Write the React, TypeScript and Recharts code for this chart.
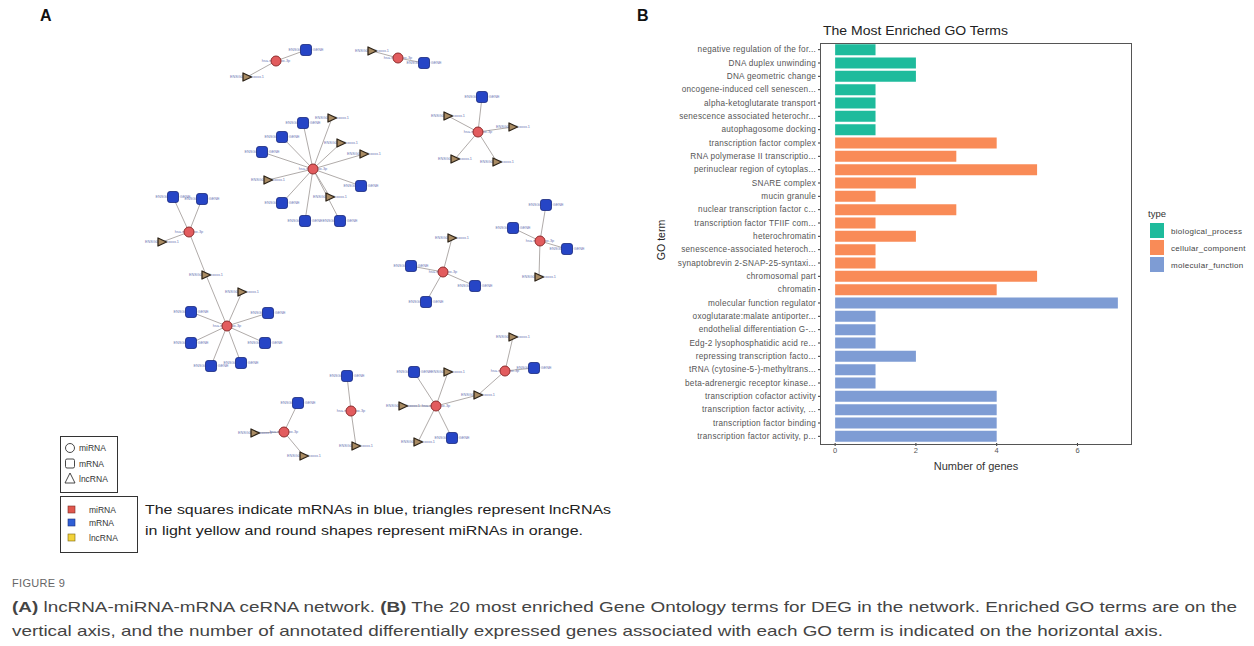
import React from 'react';
import { ScatterChart, Scatter, XAxis, YAxis, BarChart, Bar, Cell } from 'recharts';

// ---------------- Panel A: ceRNA network (layout positions) ----------------
const mirnaNodes = [
  { id: 'm1', x: 276, y: 61 }, { id: 'm2', x: 398, y: 58 }, { id: 'm3', x: 313, y: 169 },
  { id: 'm4', x: 478, y: 132 }, { id: 'm5', x: 189, y: 232 }, { id: 'm6', x: 227, y: 326 },
  { id: 'm7', x: 443, y: 272 }, { id: 'm8', x: 540, y: 241 }, { id: 'm9', x: 284, y: 432 },
  { id: 'm10', x: 351, y: 411 }, { id: 'm11', x: 436, y: 406 }, { id: 'm12', x: 505, y: 371 },
];
const mrnaNodes = [
  { id: 'g1', x: 306, y: 50 }, { id: 'g2', x: 424, y: 63 }, { id: 'g3', x: 303, y: 123 },
  { id: 'g4', x: 282, y: 137 }, { id: 'g5', x: 262, y: 152 }, { id: 'g6', x: 361, y: 186 },
  { id: 'g7', x: 282, y: 203 }, { id: 'g8', x: 305, y: 221 }, { id: 'g9', x: 340, y: 221 },
  { id: 'g10', x: 482, y: 97 }, { id: 'g11', x: 173, y: 197 }, { id: 'g12', x: 202, y: 199 },
  { id: 'g13', x: 191, y: 312 }, { id: 'g14', x: 268, y: 313 }, { id: 'g15', x: 191, y: 343 },
  { id: 'g16', x: 265, y: 343 }, { id: 'g17', x: 211, y: 366 }, { id: 'g18', x: 241, y: 363 },
  { id: 'g19', x: 411, y: 266 }, { id: 'g20', x: 475, y: 286 }, { id: 'g21', x: 426, y: 302 },
  { id: 'g22', x: 546, y: 205 }, { id: 'g23', x: 513, y: 228 }, { id: 'g24', x: 567, y: 249 },
  { id: 'g25', x: 298, y: 403 }, { id: 'g26', x: 347, y: 376 }, { id: 'g27', x: 414, y: 372 },
  { id: 'g28', x: 452, y: 438 }, { id: 'g29', x: 534, y: 368 },
];
const lncrnaNodes = [
  { id: 't1', x: 247, y: 77 }, { id: 't2', x: 372, y: 51 }, { id: 't3', x: 332, y: 118 },
  { id: 't4', x: 341, y: 143 }, { id: 't5', x: 364, y: 154 }, { id: 't6', x: 268, y: 180 },
  { id: 't7', x: 330, y: 197 }, { id: 't8', x: 448, y: 116 }, { id: 't9', x: 513, y: 127 },
  { id: 't10', x: 455, y: 159 }, { id: 't11', x: 497, y: 162 }, { id: 't12', x: 162, y: 242 },
  { id: 't13', x: 206, y: 275 }, { id: 't14', x: 242, y: 292 }, { id: 't15', x: 452, y: 238 },
  { id: 't16', x: 539, y: 277 }, { id: 't17', x: 255, y: 433 }, { id: 't18', x: 304, y: 456 },
  { id: 't19', x: 356, y: 446 }, { id: 't20', x: 448, y: 372 }, { id: 't21', x: 403, y: 406 },
  { id: 't22', x: 478, y: 395 }, { id: 't23', x: 418, y: 442 }, { id: 't24', x: 513, y: 337 },
];
const edges: [string, string][] = [
  ['m1', 'g1'], ['m1', 't1'], ['m2', 'g2'], ['m2', 't2'],
  ['m3', 'g3'], ['m3', 'g4'], ['m3', 'g5'], ['m3', 'g6'], ['m3', 'g7'], ['m3', 'g8'], ['m3', 'g9'],
  ['m3', 't3'], ['m3', 't4'], ['m3', 't5'], ['m3', 't6'], ['m3', 't7'],
  ['m4', 'g10'], ['m4', 't8'], ['m4', 't9'], ['m4', 't10'], ['m4', 't11'],
  ['m5', 'g11'], ['m5', 'g12'], ['m5', 't12'], ['m5', 't13'],
  ['m6', 't13'], ['m6', 't14'], ['m6', 'g13'], ['m6', 'g14'], ['m6', 'g15'], ['m6', 'g16'], ['m6', 'g17'], ['m6', 'g18'],
  ['m7', 't15'], ['m7', 'g19'], ['m7', 'g20'], ['m7', 'g21'],
  ['m8', 'g22'], ['m8', 'g23'], ['m8', 'g24'], ['m8', 't16'],
  ['m9', 'g25'], ['m9', 't17'], ['m9', 't18'],
  ['m10', 'g26'], ['m10', 't19'],
  ['m11', 'g27'], ['m11', 'g28'], ['m11', 't20'], ['m11', 't21'], ['m11', 't22'], ['m11', 't23'],
  ['m12', 't22'], ['m12', 't24'], ['m12', 'g29'],
];
const nodeLabels = { mirna: 'hsa-miR-xxxx-3p', mrna: 'ENSG000000  GENE', lncrna: 'ENSG00000xxxxx.1' };

// ---------------- Panel B: GO enrichment ----------------
const goTerms = [
  'negative regulation of the for...', 'DNA duplex unwinding', 'DNA geometric change',
  'oncogene-induced cell senescen...', 'alpha-ketoglutarate transport', 'senescence associated heterochr...',
  'autophagosome docking', 'transcription factor complex', 'RNA polymerase II transcriptio...',
  'perinuclear region of cytoplas...', 'SNARE complex', 'mucin granule', 'nuclear transcription factor c...',
  'transcription factor TFIIF com...', 'heterochromatin', 'senescence-associated heteroch...',
  'synaptobrevin 2-SNAP-25-syntaxi...', 'chromosomal part', 'chromatin', 'molecular function regulator',
  'oxoglutarate:malate antiporter...', 'endothelial differentiation G-...', 'Edg-2 lysophosphatidic acid re...',
  'repressing transcription facto...', 'tRNA (cytosine-5-)-methyltrans...', 'beta-adrenergic receptor kinase...',
  'transcription cofactor activity', 'transcription factor activity, ...', 'transcription factor binding',
  'transcription factor activity, p...',
];
const geneCounts = [1, 2, 2, 1, 1, 1, 1, 4, 3, 5, 2, 1, 3, 1, 2, 1, 1, 5, 4, 7, 1, 1, 1, 2, 1, 1, 4, 4, 4, 4];
const goTypes = [
  'biological_process', 'biological_process', 'biological_process', 'biological_process', 'biological_process',
  'biological_process', 'biological_process',
  'cellular_component', 'cellular_component', 'cellular_component', 'cellular_component', 'cellular_component',
  'cellular_component', 'cellular_component', 'cellular_component', 'cellular_component', 'cellular_component',
  'cellular_component', 'cellular_component',
  'molecular_function', 'molecular_function', 'molecular_function', 'molecular_function', 'molecular_function',
  'molecular_function', 'molecular_function', 'molecular_function', 'molecular_function', 'molecular_function',
  'molecular_function',
];
const typeNames = ['biological_process', 'cellular_component', 'molecular_function'];
const typeColors: Record<string, string> = {
  biological_process: '#1ebb9c',
  cellular_component: '#f98b57',
  molecular_function: '#7e9cd4',
};
const xTicks = [0, 2, 4, 6];

const barData = goTerms.map((term, i) => ({ term, count: geneCounts[i], type: goTypes[i] }));
const allNodes: Record<string, { x: number; y: number }> = {};
[...mirnaNodes, ...mrnaNodes, ...lncrnaNodes].forEach((n) => (allNodes[n.id] = n));

const LABEL_FILL = '#6b78b4';
const font = '"Liberation Sans", Arial, sans-serif';

const NoShape = () => <g />;

const MirnaShape = (p: any) => (
  <g>
    <text x={p.cx} y={p.cy + 1.4} fontSize={3.8} textAnchor="middle" fill={LABEL_FILL}>{nodeLabels.mirna}</text>
    <circle cx={p.cx} cy={p.cy} r={5} fill="#e25c5e" stroke="#8e2c2c" strokeWidth={1} />
  </g>
);
const MrnaShape = (p: any) => (
  <g>
    <text x={p.cx} y={p.cy + 1.4} fontSize={3.8} textAnchor="middle" fill={LABEL_FILL}>{nodeLabels.mrna}</text>
    <rect x={p.cx - 5.5} y={p.cy - 5.5} width={11} height={11} rx={2.5} fill="#2645c6" stroke="#18287e" strokeWidth={0.8} />
  </g>
);
const LncShape = (p: any) => (
  <g>
    <text x={p.cx} y={p.cy + 1.4} fontSize={3.8} textAnchor="middle" fill={LABEL_FILL}>{nodeLabels.lncrna}</text>
    <path
      d={`M${p.cx - 4},${p.cy - 4} L${p.cx + 4.5},${p.cy} L${p.cx - 4},${p.cy + 4} Z`}
      fill="#a98b63" stroke="#2e2418" strokeWidth={1.3} strokeLinejoin="round"
    />
  </g>
);

const TermTick = (p: any) => (
  <text x={p.x} y={p.y} dy={2.8} textAnchor="end" fontSize={8.2} letterSpacing={0.25} fill="#555" fontFamily={font}>
    {p.payload.value}
  </text>
);

export default function App() {
  return (
    <div style={{ position: 'absolute', left: 0, top: 0, width: 1254, height: 646, background: '#fff', fontFamily: font, overflow: 'hidden' }}>
      {/* Panel A network */}
      <div style={{ position: 'absolute', left: 0, top: 0 }}>
        <ScatterChart width={640} height={560} margin={{ top: 0, right: 0, bottom: 0, left: 0 }}>
          <XAxis type="number" dataKey="x" domain={[0, 640]} hide allowDataOverflow />
          <YAxis type="number" dataKey="y" domain={[0, 560]} reversed hide allowDataOverflow />
          {edges.map(([a, b], i) => (
            <Scatter
              key={'e' + i}
              data={[allNodes[a], allNodes[b]]}
              line={{ stroke: '#a7a19f', strokeWidth: 0.9 }}
              shape={NoShape}
              isAnimationActive={false}
              legendType="none"
            />
          ))}
          <Scatter data={lncrnaNodes} shape={LncShape} isAnimationActive={false} />
          <Scatter data={mrnaNodes} shape={MrnaShape} isAnimationActive={false} />
          <Scatter data={mirnaNodes} shape={MirnaShape} isAnimationActive={false} />
        </ScatterChart>
      </div>

      {/* Panel B bar chart */}
      <div style={{ position: 'absolute', left: 640, top: 0 }}>
        <BarChart
          width={614}
          height={480}
          layout="vertical"
          data={barData}
          margin={{ top: 43, right: 122, bottom: 0, left: 0 }}
          barCategoryGap="9%"
        >
          <XAxis
            type="number"
            dataKey="count"
            domain={[-0.35, 7.35]}
            ticks={xTicks}
            allowDataOverflow
            axisLine={false}
            tickLine={{ stroke: '#333' }}
            tickSize={3}
            tick={{ fontSize: 7.5, fill: '#555', fontFamily: font }}
            height={37}
          />
          <YAxis
            type="category"
            dataKey="term"
            width={181}
            interval={0}
            axisLine={false}
            tickLine={{ stroke: '#333' }}
            tickSize={3}
            tick={TermTick}
          />
          <Bar dataKey="count" isAnimationActive={false}>
            {barData.map((d, i) => (
              <Cell key={i} fill={typeColors[d.type]} />
            ))}
          </Bar>
        </BarChart>
      </div>

      {/* Text, legends, frames */}
      <svg width={1254} height={646} style={{ position: 'absolute', left: 0, top: 0, pointerEvents: 'none' }} fontFamily={font}>
        <text x={40} y={21} fontSize={16} fontWeight="bold" fill="#111">A</text>
        <text x={637} y={21} fontSize={16} fontWeight="bold" fill="#111">B</text>

        {/* Panel B furniture */}
        <text x={823} y={35} fontSize={13} fill="#222" textLength={185} lengthAdjust="spacingAndGlyphs">The Most Enriched GO Terms</text>
        <rect x={820.5} y={43.5} width={311} height={401} fill="none" stroke="#555" strokeWidth={1} />
        <text x={976} y={470} fontSize={11} fill="#333" textAnchor="middle">Number of genes</text>
        <text transform="translate(665,240) rotate(-90)" fontSize={10.5} fill="#222" textAnchor="middle">GO term</text>
        <text x={1148} y={217} fontSize={9.5} fill="#333">type</text>
        {typeNames.map((t, i) => (
          <g key={t}>
            <rect x={1150} y={223 + i * 17} width={14} height={15} fill={typeColors[t]} />
            <text x={1171} y={233.5 + i * 17} fontSize={8} letterSpacing={0.3} fill="#444">{t}</text>
          </g>
        ))}

        {/* Panel A legends */}
        <rect x={60.5} y={436.5} width={57} height={56} fill="#fff" stroke="#333" strokeWidth={1} />
        <circle cx={70} cy={448} r={4.5} fill="none" stroke="#333" strokeWidth={0.9} />
        <text x={79} y={451} fontSize={8.5} fill="#333">miRNA</text>
        <rect x={65.5} y={459} width={9} height={9} rx={1.5} fill="none" stroke="#333" strokeWidth={0.9} />
        <text x={79} y={467} fontSize={8.5} fill="#333">mRNA</text>
        <path d="M70,473 L75,483 L65,483 Z" fill="none" stroke="#333" strokeWidth={0.9} />
        <text x={79} y={482} fontSize={8.5} fill="#333">lncRNA</text>

        <rect x={60.5} y={496.5} width={77} height={56} fill="#fff" stroke="#333" strokeWidth={1} />
        <rect x={68} y={506} width={7} height={7} fill="#e0574e" stroke="#7a2a22" strokeWidth={0.6} />
        <text x={89} y={513} fontSize={8.5} fill="#333">miRNA</text>
        <rect x={68} y={519} width={7} height={7} fill="#2f5fd6" stroke="#1d2f7a" strokeWidth={0.6} />
        <text x={89} y={526} fontSize={8.5} fill="#333">mRNA</text>
        <rect x={68} y={534} width={7} height={7} fill="#f2d23a" stroke="#7a6410" strokeWidth={0.6} />
        <text x={89} y={541} fontSize={8.5} fill="#333">lncRNA</text>

        <text x={145} y={514} fontSize={13.5} fill="#222" textLength={466} lengthAdjust="spacingAndGlyphs">
          The squares indicate mRNAs in blue, triangles represent lncRNAs
        </text>
        <text x={145} y={535} fontSize={13.5} fill="#222" textLength={438} lengthAdjust="spacingAndGlyphs">
          in light yellow and round shapes represent miRNAs in orange.
        </text>

        {/* Caption */}
        <text x={12} y={587} fontSize={11} fill="#666" letterSpacing={0.3}>FIGURE 9</text>
        <text x={12} y={612} fontSize={15} fill="#444" textLength={1225} lengthAdjust="spacingAndGlyphs">
          <tspan fontWeight="600">(A)</tspan> lncRNA-miRNA-mRNA ceRNA network. <tspan fontWeight="600">(B)</tspan> The 20 most enriched Gene Ontology terms for DEG in the network. Enriched GO terms are on the
        </text>
        <text x={12} y={636} fontSize={15} fill="#444" textLength={1151} lengthAdjust="spacingAndGlyphs">
          vertical axis, and the number of annotated differentially expressed genes associated with each GO term is indicated on the horizontal axis.
        </text>
      </svg>
    </div>
  );
}
